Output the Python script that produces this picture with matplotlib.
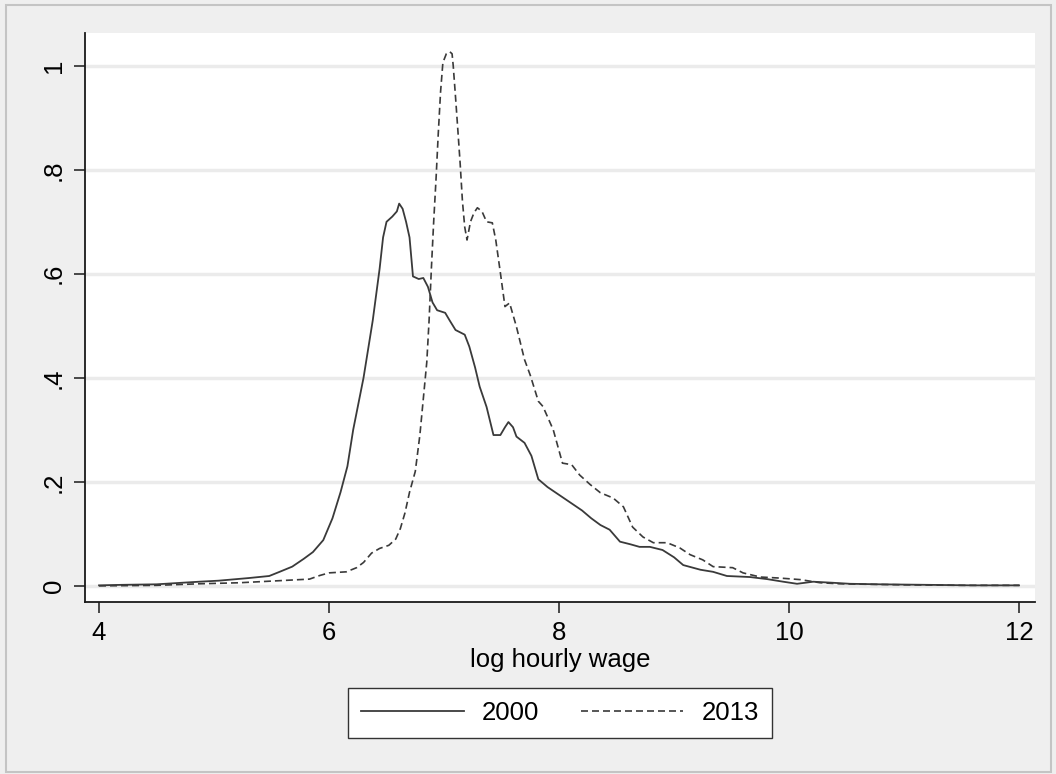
import matplotlib
matplotlib.use("Agg")
from matplotlib import pyplot as plt
from matplotlib.patches import Rectangle

# kernel density of log hourly wage
wage_2000 = [4.0, 4.2, 4.5, 4.87, 5.04, 5.3, 5.48, 5.57, 5.68, 5.78, 5.86, 5.95, 6.03, 6.1,
             6.16, 6.21, 6.30, 6.38, 6.44, 6.47, 6.50, 6.55, 6.59, 6.61, 6.64, 6.67, 6.70,
             6.73, 6.78, 6.82, 6.86, 6.90, 6.94, 7.01, 7.05, 7.10, 7.18, 7.22, 7.27, 7.31,
             7.37, 7.43, 7.49, 7.53, 7.56, 7.60, 7.63, 7.70, 7.76, 7.82, 7.9, 8.0, 8.1, 8.2,
             8.28, 8.36, 8.44, 8.53, 8.62, 8.70, 8.79, 8.90, 9.0, 9.08, 9.23, 9.34, 9.46,
             9.66, 9.81, 9.95, 10.07, 10.21, 10.38, 10.53, 10.8, 11.2, 11.6, 12.0]
density_2000 = [0.001, 0.002, 0.003, 0.008, 0.010, 0.015, 0.019, 0.027, 0.037, 0.052, 0.065,
                0.088, 0.13, 0.18, 0.23, 0.30, 0.40, 0.51, 0.61, 0.67, 0.70, 0.71, 0.72, 0.735,
                0.725, 0.70, 0.67, 0.595, 0.59, 0.592, 0.575, 0.545, 0.53, 0.525, 0.51, 0.492,
                0.483, 0.46, 0.42, 0.383, 0.344, 0.29, 0.290, 0.305, 0.315, 0.305, 0.287, 0.275,
                0.25, 0.205, 0.19, 0.175, 0.16, 0.145, 0.13, 0.117, 0.108, 0.085, 0.08, 0.075,
                0.075, 0.069, 0.055, 0.040, 0.031, 0.027, 0.019, 0.017, 0.013, 0.008, 0.004,
                0.008, 0.006, 0.004, 0.003, 0.002, 0.001, 0.001]

wage_2013 = [4.0, 4.5, 4.87, 5.22, 5.57, 5.83, 5.92, 6.0, 6.15, 6.24, 6.30, 6.37, 6.44, 6.52,
             6.58, 6.62, 6.66, 6.70, 6.75, 6.79, 6.82, 6.85, 6.87, 6.89, 6.91, 6.93, 6.95,
             6.97, 6.99, 7.02, 7.05, 7.07, 7.08, 7.10, 7.12, 7.14, 7.16, 7.18, 7.20, 7.23,
             7.26, 7.29, 7.33, 7.37, 7.42, 7.45, 7.49, 7.53, 7.57, 7.63, 7.70, 7.75, 7.82,
             7.86, 7.95, 8.03, 8.11, 8.18, 8.27, 8.36, 8.47, 8.56, 8.64, 8.73, 8.82, 8.94,
             9.05, 9.14, 9.25, 9.34, 9.51, 9.60, 9.75, 9.92, 10.10, 10.27, 10.44, 10.7, 11.0,
             11.5, 12.0]
density_2013 = [0.0, 0.001, 0.004, 0.006, 0.010, 0.013, 0.02, 0.025, 0.027, 0.035, 0.045, 0.063,
                0.072, 0.078, 0.09, 0.11, 0.14, 0.18, 0.22, 0.29, 0.36, 0.43, 0.51, 0.61, 0.70,
                0.78, 0.87, 0.95, 1.006, 1.023, 1.027, 1.023, 1.0, 0.94, 0.877, 0.813, 0.74,
                0.69, 0.665, 0.70, 0.717, 0.727, 0.72, 0.70, 0.698, 0.665, 0.602, 0.537, 0.544,
                0.498, 0.435, 0.405, 0.355, 0.345, 0.30, 0.236, 0.233, 0.213, 0.195, 0.179,
                0.169, 0.152, 0.113, 0.094, 0.083, 0.083, 0.073, 0.06, 0.05, 0.037, 0.035,
                0.025, 0.017, 0.015, 0.012, 0.006, 0.004, 0.003, 0.002, 0.001, 0.001]

x_ticks = [4, 6, 8, 10, 12]
y_ticks = [0, 0.2, 0.4, 0.6, 0.8, 1.0]
y_tick_labels = ["0", ".2", ".4", ".6", ".8", "1"]

plt.rcParams["font.family"] = ["Liberation Sans", "DejaVu Sans"]
fs = 18.5
ink = "#3a3a3a"

fig = plt.figure(figsize=(10.56, 7.74), dpi=100, facecolor="#efefef")
fig.patches.append(Rectangle((6 / 1056, 2 / 774), 1045 / 1056, 767 / 774,
                             transform=fig.transFigure, fill=False,
                             edgecolor="#c4c4c4", linewidth=1.5))

ax = fig.add_axes([85 / 1056, 1 - 602 / 774, 950 / 1056, 569 / 774])
ax.set_facecolor("white")

ax.plot(wage_2000, density_2000, color=ink, linewidth=1.3, label="2000")
ax.plot(wage_2013, density_2013, color=ink, linewidth=1.2,
        linestyle=(0, (4.2, 2.4)), label="2013")

ax.set_xlim(3.878, 12.139)
ax.set_ylim(-0.031, 1.063)
ax.set_xticks(x_ticks)
ax.set_yticks(y_ticks)
ax.set_yticklabels(y_tick_labels, rotation=90, va="center")
ax.grid(axis="y", color="#ebebeb", linewidth=2.5)
ax.set_axisbelow(True)

for side in ["top", "right"]:
    ax.spines[side].set_visible(False)
for side in ["left", "bottom"]:
    ax.spines[side].set_color("#1a1a1a")
    ax.spines[side].set_linewidth(1.3)
ax.tick_params(length=8, width=1.1, color="#1a1a1a", labelsize=fs, pad=6)

ax.set_xlabel("log hourly wage", fontsize=fs, labelpad=2)

leg = fig.legend(loc="center", bbox_to_anchor=(560 / 1056, 1 - 713 / 774), ncol=2,
                 fontsize=fs, handlelength=4.0, handletextpad=0.7, columnspacing=1.6,
                 borderpad=0.5, fancybox=False, framealpha=1, edgecolor="#333333")
leg.get_frame().set_linewidth(1.0)

fig.savefig("out.png", dpi=100, facecolor=fig.get_facecolor())
